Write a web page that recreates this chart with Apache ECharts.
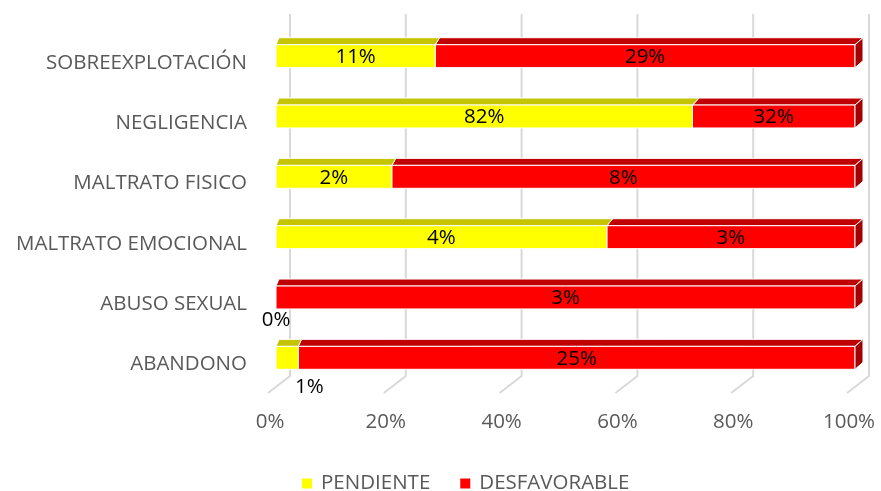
<!DOCTYPE html>
<html>
<head>
<meta charset="utf-8">
<script src="https://cdn.jsdelivr.net/npm/echarts@6/dist/echarts.min.js"></script>
<style>
  html, body { margin: 0; padding: 0; background: #fff; }
  #chart { width: 881px; height: 491px; }
</style>
</head>
<body>
<div id="chart"></div>
<script>
const categories = ['SOBREEXPLOTACIÓN', 'NEGLIGENCIA', 'MALTRATO FISICO', 'MALTRATO EMOCIONAL', 'ABUSO SEXUAL', 'ABANDONO'];
const pendiente = [11, 82, 2, 4, 0, 1];
const desfavorable = [29, 32, 8, 3, 3, 25];
const xTicks = [0, 20, 40, 60, 80, 100];

const FONT = '"Open Sans", "Liberation Sans", sans-serif';
const FS = 20.5;
// label nudges for the tiny segments (as placed in the original)
const smallLabelShift = { 4: [0, 11], 5: [11, 18] };

// each segment: [start%, end%, categoryIndex, raw value]
function segments(which) {
  return categories.map((c, i) => {
    const tot = pendiente[i] + desfavorable[i];
    const share = pendiente[i] / tot * 100;
    return which === 0 ? [0, share, i, pendiente[i]] : [share, 100, i, desfavorable[i]];
  });
}

const chart = echarts.init(document.getElementById('chart'));

function depthX(api, x) {
  const x0 = api.coord([0, 0])[0], x1 = api.coord([100, 0])[0];
  return 3 + 5 * (x - x0) / (x1 - x0);
}

function makeBar(front, top, side) {
  return function (params, api) {
    const s = api.value(0), e = api.value(1), ci = api.value(2), raw = api.value(3);
    const p1 = api.coord([s, ci]);
    const p2 = api.coord([e, ci]);
    const bh = api.size([0, 1])[1] * 0.38;
    const yT = p1[1] - bh / 2, yB = p1[1] + bh / 2;
    const dy = 7;
    const dx1 = depthX(api, p1[0]), dx2 = depthX(api, p2[0]);
    const kids = [];
    if (p2[0] - p1[0] > 0.5) {
      kids.push({
        type: 'polygon',
        shape: { points: [[p1[0], yT], [p2[0], yT], [p2[0] + dx2, yT - dy], [p1[0] + dx1, yT - dy]] },
        style: { fill: top, stroke: '#fff', lineWidth: 1 }
      });
      kids.push({
        type: 'rect',
        shape: { x: p1[0], y: yT, width: p2[0] - p1[0], height: yB - yT },
        style: { fill: front, stroke: '#fff', lineWidth: 1 }
      });
      if (e >= 100) {
        kids.push({
          type: 'polygon',
          shape: { points: [[p2[0], yT], [p2[0] + dx2, yT - dy], [p2[0] + dx2, yB - dy], [p2[0], yB]] },
          style: { fill: side, stroke: '#fff', lineWidth: 1 }
        });
      }
    }
    let tx = (p1[0] + p2[0]) / 2, ty = p1[1] + 1;
    if (p2[0] - p1[0] < 30) {
      const sh = smallLabelShift[ci] || [0, 12];
      tx = p2[0] + sh[0];
      ty = yB + sh[1];
    }
    kids.push({
      type: 'text',
      style: {
        text: raw + '%', x: tx, y: ty, align: 'center', verticalAlign: 'middle',
        fill: '#000', font: FS + 'px ' + FONT
      }
    });
    return { type: 'group', children: kids };
  };
}

function renderWall(params, api) {
  const v = api.value(0);
  const n = categories.length;
  const band = api.size([0, 1])[1];
  const x = api.coord([v, 0])[0];
  const yTop = api.coord([v, 0])[1] - band / 2;
  const yBot = api.coord([v, n - 1])[1] + band / 2;
  const style = { stroke: '#d9d9d9', lineWidth: 2, fill: null };
  return {
    type: 'group',
    children: [
      { type: 'polyline', shape: { points: [[x + 14, yTop - 12], [x + 14, yBot - 12], [x - 8, yBot + 5]] }, style: style }
    ]
  };
}

const option = {
  animation: false,
  backgroundColor: '#fff',
  textStyle: { fontFamily: FONT },
  grid: { left: 276, right: 26, top: 26, bottom: 103, containLabel: false },
  legend: {
    data: ['PENDIENTE', 'DESFAVORABLE'],
    left: 297,
    top: 468,
    icon: 'rect',
    itemWidth: 10,
    itemHeight: 10,
    itemGap: 30,
    textStyle: { color: '#595959', fontSize: FS, fontFamily: FONT, padding: [0, 0, 0, 4] }
  },
  xAxis: {
    type: 'value',
    min: 0,
    max: 100,
    interval: 20,
    axisLine: { show: false },
    axisTick: { show: false },
    splitLine: { show: false },
    axisLabel: {
      formatter: '{value}%', color: '#595959', fontSize: FS, fontFamily: FONT,
      margin: 24, padding: [0, 12, 0, 0]
    }
  },
  yAxis: {
    type: 'category',
    data: categories,
    inverse: true,
    axisLine: { show: false },
    axisTick: { show: false },
    axisLabel: {
      color: '#595959', fontSize: FS, fontFamily: FONT, margin: 29,
      formatter: '{a|{value}}',
      rich: { a: { color: '#595959', fontSize: FS, fontFamily: FONT, padding: [13, 0, 0, 0] } }
    }
  },
  series: [
    {
      type: 'custom', name: 'wall', silent: true, z: 1,
      renderItem: renderWall,
      encode: { x: 0 },
      data: xTicks.map(v => [v])
    },
    {
      type: 'custom', name: 'PENDIENTE', z: 3,
      itemStyle: { color: '#ffff00' },
      renderItem: makeBar('#ffff00', '#c4c400', '#a8a800'),
      encode: { x: [0, 1], y: 2 },
      data: segments(0)
    },
    {
      type: 'custom', name: 'DESFAVORABLE', z: 2,
      itemStyle: { color: '#ff0000' },
      renderItem: makeBar('#ff0000', '#c00000', '#a50000'),
      encode: { x: [0, 1], y: 2 },
      data: segments(1)
    }
  ]
};

chart.setOption(option);
</script>
</body>
</html>
